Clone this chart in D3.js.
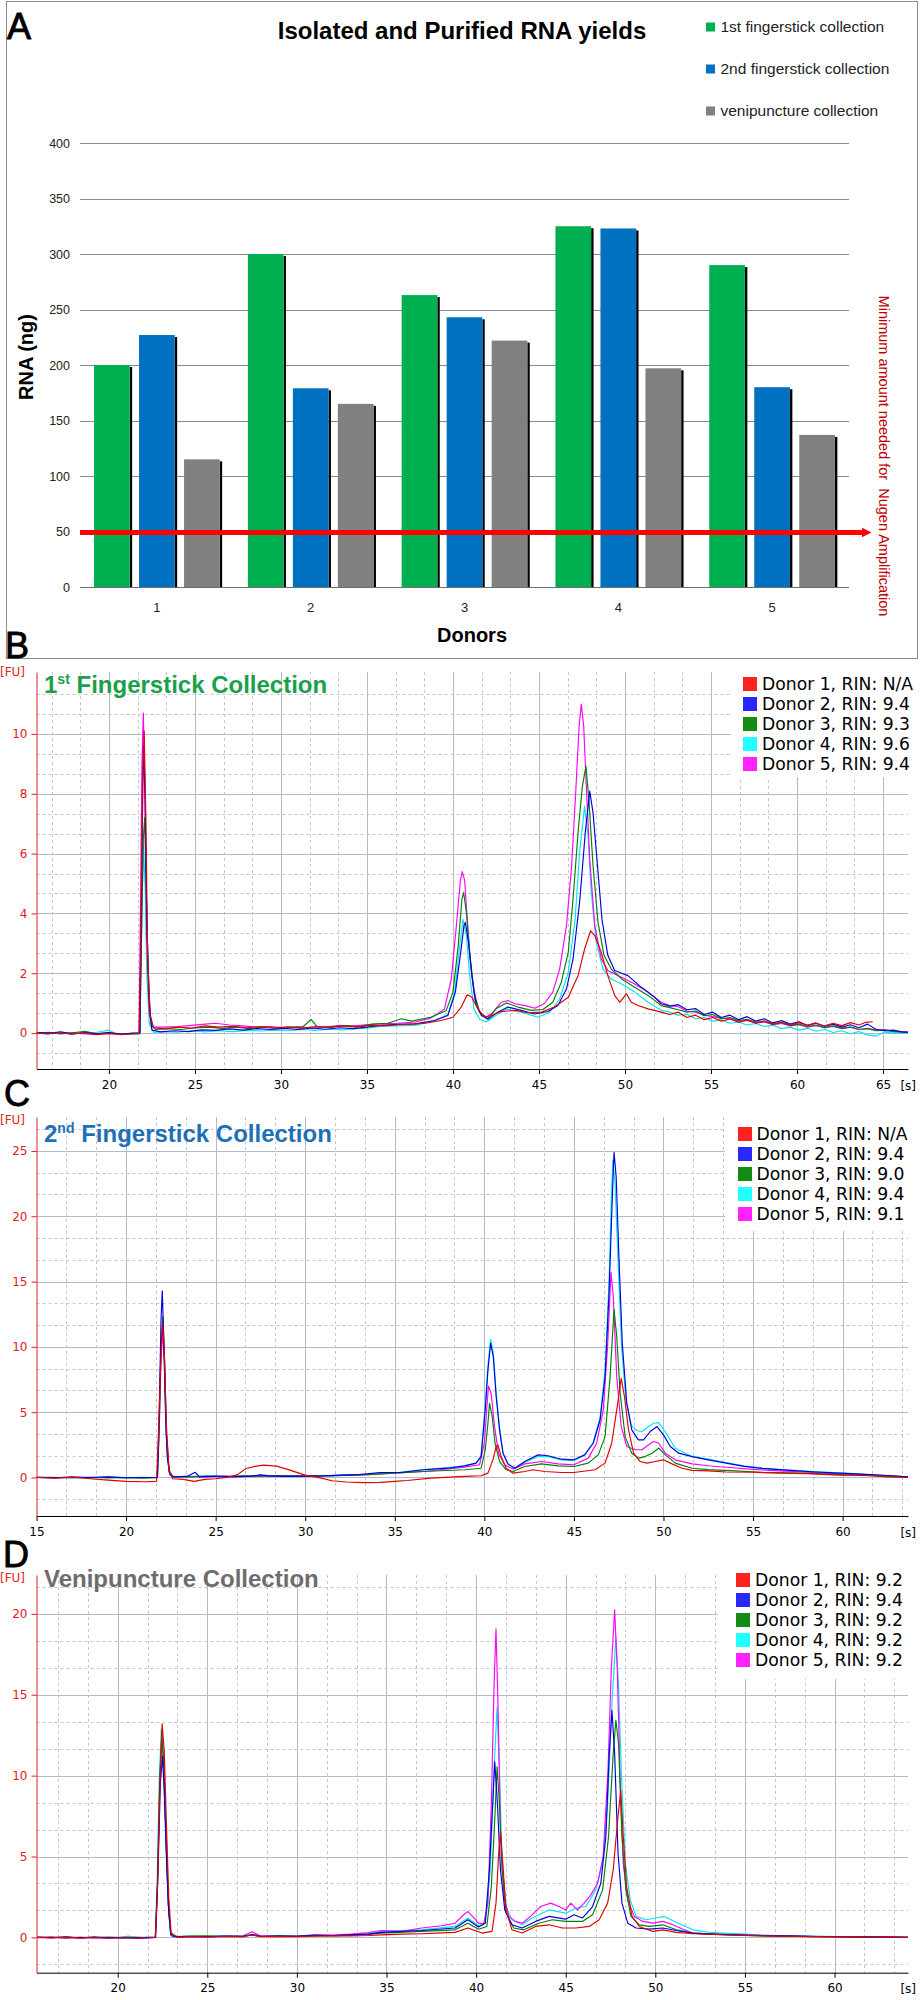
<!DOCTYPE html>
<html><head><meta charset="utf-8">
<script src="https://cdn.jsdelivr.net/npm/d3@7"></script>
<style>body{margin:0;background:#fff}svg{display:block}</style>
</head><body>
<svg id="chart" width="920" height="2000"></svg>
<script>
// ---------------- DATA ----------------
const barCategories = ["1","2","3","4","5"];
const barSeriesNames = ["1st fingerstick collection","2nd fingerstick collection","venipuncture collection"];
const firstFingerstick = [200,300,263,325,290];
const secondFingerstick = [227,179,243,323,180];
const venipuncture = [115,165,222,197,137];
const minimumRNA = 50;
const yTicksA = [0,50,100,150,200,250,300,350,400];

const donors = ["Donor 1","Donor 2","Donor 3","Donor 4","Donor 5"];
const rinB = ["N/A","9.4","9.3","9.6","9.4"];
const rinC = ["N/A","9.4","9.0","9.4","9.1"];
const rinD = ["9.2","9.4","9.2","9.2","9.2"];

const xTicksB = [20,25,30,35,40,45,50,55,60,65];
const yTicksB = [0,2,4,6,8,10];
const xRangeB = [15.79,66.45];
const yRangeB = [-1.2,12.07];
const xTicksC = [15,20,25,30,35,40,45,50,55,60];
const yTicksC = [0,5,10,15,20,25];
const xRangeC = [15,63.65];
const yRangeC = [-2.95,27.6];
const xTicksD = [20,25,30,35,40,45,50,55,60];
const yTicksD = [0,5,10,15,20];
const xRangeD = [15.47,64.1];
const yRangeD = [-2.18,22.4];

// Panel B traces [time s, FU]
const traceB1 = [[15.8,0.01],[16.4,-0.03],[17.1,0.02],[17.8,-0.04],[18.5,0.01],[19.2,-0.05],[19.9,-0.02],[20.6,-0.04],[21.3,-0.03],[21.75,-0.02],[21.85,2.8],[21.95,8.2],[22.05,10.1],[22.15,7.1],[22.25,2.6],[22.4,0.6],[22.6,0.18],[23.2,0.14],[24,0.2],[24.8,0.17],[25.6,0.24],[26.4,0.2],[27.2,0.23],[28,0.18],[28.8,0.22],[29.6,0.17],[30.4,0.21],[31.2,0.16],[32,0.22],[32.8,0.19],[33.6,0.24],[34.4,0.2],[35.2,0.26],[36,0.24],[36.8,0.28],[37.6,0.3],[38.4,0.33],[39.3,0.42],[40,0.53],[40.48,0.87],[40.83,1.28],[41.1,1.2],[41.45,0.81],[41.84,0.53],[42.23,0.59],[42.8,0.72],[43.6,0.76],[44.36,0.68],[45.14,0.7],[45.9,0.87],[46.7,1.2],[47.27,1.92],[47.65,2.81],[48,3.42],[48.24,3.26],[48.62,2.7],[49,1.92],[49.4,1.26],[49.69,1.03],[50.08,1.31],[50.37,1.03],[50.76,0.92],[51.34,0.81],[52.1,0.7],[52.6,0.62],[53.1,0.7],[53.6,0.52],[54.1,0.6],[54.6,0.45],[55.1,0.52],[55.6,0.4],[56.1,0.47],[56.6,0.36],[57.1,0.44],[57.6,0.33],[58.1,0.4],[58.6,0.3],[59.1,0.37],[59.6,0.27],[60.1,0.35],[60.6,0.26],[61.1,0.34],[61.6,0.24],[62.1,0.33],[62.6,0.25],[63.1,0.35],[63.6,0.27],[64,0.36],[64.4,0.38]];
const traceB2 = [[15.8,0.03],[16.5,-0.01],[17.2,0.04],[17.9,-0.03],[18.6,0.02],[19.3,-0.02],[20,0.02],[20.7,-0.03],[21.4,-0.01],[21.8,0],[21.9,4.8],[22,9.6],[22.1,8],[22.2,3.8],[22.35,0.9],[22.5,0.1],[23,0.04],[23.8,0.08],[24.6,0.05],[25.4,0.11],[26.2,0.09],[27,0.14],[27.8,0.1],[28.6,0.15],[29.4,0.12],[30.2,0.16],[31,0.12],[31.8,0.17],[32.6,0.13],[33.4,0.18],[34.2,0.15],[35,0.2],[35.8,0.26],[36.8,0.29],[37.8,0.31],[38.93,0.42],[39.7,0.59],[40.14,1.37],[40.45,2.7],[40.64,3.6],[40.72,3.7],[40.9,3.03],[41.1,1.92],[41.36,0.92],[41.65,0.59],[42.03,0.46],[42.6,0.7],[43.2,0.87],[43.97,0.76],[44.75,0.64],[45.52,0.72],[46.1,0.92],[46.6,1.48],[46.98,2.48],[47.36,4.37],[47.69,6.7],[47.95,8.09],[48.14,7.37],[48.4,5.6],[48.66,3.8],[49,2.6],[49.4,2.09],[49.8,2],[50.17,1.92],[50.95,1.53],[51.72,1.2],[52.1,0.98],[52.6,0.9],[53.1,0.95],[53.6,0.78],[54.1,0.82],[54.6,0.62],[55.1,0.7],[55.6,0.52],[56.1,0.6],[56.6,0.45],[57.1,0.55],[57.6,0.4],[58.1,0.48],[58.6,0.34],[59.1,0.42],[59.6,0.3],[60.1,0.38],[60.6,0.26],[61.1,0.33],[61.6,0.22],[62.1,0.3],[62.6,0.2],[63.1,0.28],[63.6,0.18],[64.1,0.3],[64.6,0.12],[65.1,0.08],[65.6,0.1],[66.1,0.04],[66.45,0.03]];
const traceB3 = [[15.8,-0.02],[16.5,0.02],[17.2,-0.03],[17.9,0.01],[18.6,0.06],[19.3,-0.02],[20,0.01],[20.7,-0.03],[21.4,0],[21.8,0],[21.9,3.5],[22,6.5],[22.08,7.2],[22.18,4.5],[22.3,1.5],[22.45,0.3],[22.7,0.12],[23.4,0.15],[24.2,0.12],[25,0.17],[25.8,0.2],[26.6,0.16],[27.4,0.2],[28.2,0.15],[29,0.2],[29.8,0.16],[30.6,0.2],[31.3,0.22],[31.75,0.46],[32.1,0.22],[32.9,0.2],[33.7,0.25],[34.5,0.22],[35.3,0.3],[36.2,0.33],[37,0.48],[37.6,0.4],[38.7,0.53],[39.6,0.75],[40,1.37],[40.3,2.9],[40.52,4.48],[40.62,4.7],[40.78,4.03],[40.97,2.7],[41.22,1.37],[41.55,0.7],[42.03,0.48],[42.5,0.81],[43.1,1.01],[43.78,0.87],[44.55,0.76],[45.23,0.79],[45.8,1.03],[46.3,1.7],[46.7,2.7],[46.98,4.48],[47.27,6.7],[47.52,8.25],[47.73,8.92],[47.9,7.8],[48.14,5.6],[48.43,3.7],[48.78,2.6],[49.2,2.14],[49.8,1.81],[50.56,1.53],[51.34,1.26],[52.1,0.92],[52.6,0.85],[53.1,0.78],[53.6,0.7],[54.1,0.74],[54.6,0.58],[55.1,0.62],[55.6,0.48],[56.1,0.52],[56.6,0.42],[57.1,0.46],[57.6,0.36],[58.1,0.4],[58.6,0.3],[59.1,0.35],[59.6,0.26],[60.1,0.3],[60.6,0.22],[61.1,0.27],[61.6,0.18],[62.1,0.24],[62.6,0.16],[63.1,0.2],[63.6,0.12],[64.1,0.15],[64.6,0.08],[65.1,0.1],[65.6,0.05],[66.45,0.02]];
const traceB4 = [[15.8,0],[16.5,-0.03],[17.2,0.02],[17.9,-0.02],[18.6,0.01],[19.3,0.03],[20,0.1],[20.4,-0.02],[21.1,-0.04],[21.8,-0.02],[21.9,3.2],[22,6.3],[22.1,5],[22.2,2],[22.35,0.3],[22.6,0.02],[23.2,0.05],[24,0.03],[24.8,0.08],[25.6,0.04],[26.4,0.08],[27.2,0.05],[28,0.09],[28.8,0.07],[29.6,0.1],[30.4,0.08],[31.2,0.12],[32,0.09],[32.8,0.13],[33.6,0.11],[34.4,0.15],[35.2,0.17],[35.8,0.23],[37.8,0.26],[38.93,0.42],[39.7,0.61],[40.1,1.37],[40.39,2.9],[40.58,3.8],[40.78,3.26],[40.97,1.92],[41.22,0.81],[41.55,0.46],[41.94,0.37],[42.5,0.59],[43.1,0.81],[43.97,0.7],[44.94,0.53],[45.62,0.7],[46.2,1.14],[46.7,2.03],[47.1,3.8],[47.36,6.03],[47.65,7.59],[47.85,6.59],[48.04,4.7],[48.33,3.03],[48.72,2.14],[49.2,1.81],[49.8,1.64],[50.56,1.37],[51.34,1.03],[52.1,0.76],[52.6,0.7],[53.1,0.6],[53.6,0.62],[54.1,0.48],[54.6,0.52],[55.1,0.4],[55.6,0.44],[56.1,0.33],[56.6,0.37],[57.1,0.27],[57.6,0.32],[58.1,0.22],[58.6,0.26],[59.1,0.15],[59.6,0.2],[60.1,0.1],[60.6,0.16],[61.1,0.06],[61.6,0.12],[62.1,0.02],[62.6,0.08],[63.1,-0.02],[63.6,0.05],[64.1,-0.06],[64.6,-0.1],[65.1,0.04],[65.6,0],[66.45,0]];
const traceB5 = [[15.8,0],[16.5,0.03],[17.2,-0.02],[17.9,0.02],[18.6,-0.03],[19.3,-0.04],[20,0],[20.7,-0.05],[21.4,-0.02],[21.75,0],[21.82,3.5],[21.92,9],[22,10.7],[22.08,8.5],[22.2,3],[22.35,0.6],[22.55,0.2],[23.2,0.2],[24,0.22],[24.8,0.26],[25.6,0.3],[26.2,0.33],[27,0.27],[27.8,0.24],[28.6,0.2],[29.4,0.22],[30.2,0.18],[31,0.2],[31.8,0.16],[32.6,0.2],[33.4,0.26],[34.2,0.24],[35,0.28],[35.8,0.31],[36.8,0.33],[37.8,0.37],[38.7,0.5],[39.5,0.8],[39.9,1.8],[40.2,3.6],[40.43,5.1],[40.54,5.4],[40.68,5.1],[40.83,3.8],[41.03,2.25],[41.26,1.15],[41.55,0.7],[41.94,0.53],[42.33,0.7],[42.8,1.03],[43.2,1.09],[43.6,0.98],[44.2,0.92],[44.75,0.83],[45.3,0.98],[45.8,1.37],[46.2,2.14],[46.6,3.6],[46.9,5.6],[47.13,8],[47.33,10.25],[47.46,11],[47.6,10.25],[47.75,8.25],[47.95,5.8],[48.24,3.6],[48.62,2.48],[49,2.09],[49.4,1.98],[50,1.81],[50.56,1.64],[51.34,1.37],[52.1,1.03],[52.6,0.92],[53.1,0.88],[53.6,0.74],[54.1,0.7],[54.6,0.6],[55.1,0.55],[55.6,0.5],[56.1,0.48],[56.6,0.4],[57.1,0.42],[57.6,0.34],[58.1,0.37],[58.6,0.28],[59.1,0.32],[59.6,0.24],[60.1,0.28],[60.6,0.2],[61.1,0.25],[61.6,0.18],[62.1,0.22],[62.6,0.15],[63.1,0.2],[63.6,0.12],[64.1,0.16],[64.6,0.1],[65.1,0.12],[65.6,0.06],[66.45,0.04]];

// Panel C traces
const traceC1 = [[15,0],[16,-0.05],[17,0.02],[18,-0.1],[19,-0.2],[20,-0.3],[21,-0.33],[21.7,-0.3],[21.8,3],[21.95,9.5],[22.05,11.8],[22.15,9],[22.25,4],[22.4,0.5],[22.6,-0.1],[23.2,-0.15],[23.8,-0.3],[24.4,-0.15],[25,-0.1],[25.6,0],[26.2,0.2],[26.7,0.69],[27.2,0.85],[27.67,0.94],[28.4,0.87],[29.15,0.56],[30,0.18],[30.83,-0.03],[31.5,-0.25],[32.3,-0.35],[33.2,-0.4],[34.2,-0.38],[35,-0.3],[35.7,-0.23],[37,-0.05],[38.9,0.08],[39.82,0.13],[40.2,0.33],[40.48,1.35],[40.66,2.37],[40.76,2.5],[40.94,1.6],[41.22,0.71],[41.6,0.33],[42.25,0.46],[42.72,0.59],[43.37,0.46],[44.3,0.38],[45,0.38],[46.18,0.59],[46.74,1.1],[47.11,2.62],[47.39,5.17],[47.64,7.6],[47.82,6.2],[48.05,3.64],[48.33,1.86],[48.7,1.22],[49.07,1.1],[49.54,1.22],[50,1.35],[50.48,1.04],[51.04,0.71],[51.6,0.54],[52.5,0.5],[53.5,0.42],[55,0.4],[56.5,0.33],[58,0.3],[59.5,0.2],[61,0.15],[62.3,0.1],[63.65,0]];
const traceC2 = [[15,0.02],[16,-0.03],[17,0.03],[18,0],[19,0.05],[20,-0.02],[21,0],[21.75,0.02],[21.85,5],[21.95,12],[22.02,14.3],[22.1,11],[22.2,5],[22.3,1.5],[22.45,0.2],[22.7,0.05],[23.4,0.08],[23.85,0.4],[24.1,0.05],[25,0.1],[26,0.05],[27,0.1],[27.5,0.2],[28,0.12],[29,0.08],[30,0.1],[31,0.12],[32,0.18],[33,0.22],[34.2,0.38],[35.3,0.38],[36.6,0.59],[37.95,0.71],[38.9,0.89],[39.54,1.1],[39.82,1.6],[40.05,5.2],[40.2,8.2],[40.35,10.27],[40.5,9.25],[40.66,6.2],[40.85,3.64],[41.04,1.86],[41.32,1.04],[41.7,0.71],[42.25,1.22],[43,1.73],[43.56,1.66],[44.3,1.4],[45,1.35],[45.6,1.73],[46.08,2.62],[46.46,4.4],[46.74,7.7],[46.96,14.1],[47.15,21.7],[47.24,24.9],[47.36,23],[47.52,16.6],[47.7,10.27],[47.95,5.7],[48.23,3.64],[48.6,2.88],[48.89,2.88],[49.26,3.52],[49.64,3.9],[50,3.26],[50.38,2.37],[50.85,1.86],[51.6,1.6],[52.5,1.35],[53.5,1.1],[54.5,0.85],[55.5,0.7],[56.5,0.6],[57.5,0.5],[58.5,0.42],[59.5,0.35],[60.5,0.3],[61.5,0.22],[62.5,0.15],[63.65,0.05]];
const traceC3 = [[15,0],[16,0.02],[17,-0.04],[18,0.02],[19,-0.03],[20,0],[21,-0.05],[21.75,0],[21.85,4],[21.95,10],[22.05,12.3],[22.15,9],[22.25,3.5],[22.4,0.6],[22.6,0.05],[23.4,0.05],[24.5,0.1],[25.5,0.05],[26.5,0.12],[27.5,0.1],[28.5,0.15],[29.5,0.1],[30.5,0.15],[31.5,0.12],[32.5,0.18],[33.5,0.22],[34.2,0.28],[36.6,0.46],[38.9,0.59],[39.82,0.71],[40.05,2.12],[40.2,4.15],[40.29,5.68],[40.44,4.66],[40.6,2.62],[40.85,1.22],[41.22,0.59],[41.6,0.46],[42.25,0.84],[43.19,1.04],[44.12,0.89],[45,0.84],[45.8,1.1],[46.36,1.73],[46.74,3.13],[47.02,7.72],[47.24,12.87],[47.39,10.78],[47.58,6.45],[47.86,3.13],[48.23,1.86],[48.6,1.48],[48.98,1.6],[49.36,1.86],[49.73,2.24],[50.1,1.73],[50.66,1.1],[51.6,0.71],[52.5,0.6],[54,0.5],[55.5,0.4],[57,0.35],[58.5,0.3],[60,0.2],[61.5,0.15],[62.5,0.05],[63.65,0.02]];
const traceC4 = [[15,0.03],[16,0],[17,0.02],[18,-0.03],[19,0.04],[20,0],[21,0.02],[21.75,0],[21.85,4],[21.95,10],[22.05,12],[22.15,8],[22.25,3],[22.4,0.4],[22.6,0.08],[23.5,0.05],[24.5,0.1],[25.5,0.08],[26.5,0.1],[27.5,0.15],[28.5,0.1],[29.5,0.1],[30.5,0.12],[31.5,0.15],[32.5,0.2],[33.5,0.25],[34.2,0.38],[35.3,0.4],[36.6,0.6],[37.95,0.75],[38.9,0.9],[39.54,1.1],[39.82,1.7],[40.05,5.5],[40.2,8.6],[40.35,10.58],[40.5,9.6],[40.66,6.5],[40.85,3.8],[41.04,1.9],[41.32,1],[41.7,0.7],[42.25,1.15],[43,1.6],[43.56,1.6],[44.3,1.35],[45,1.3],[45.6,1.7],[46.08,2.7],[46.46,4.6],[46.74,8.2],[46.96,15],[47.1,22],[47.17,24.3],[47.3,22.5],[47.48,16],[47.66,10],[47.9,6],[48.2,4],[48.5,3.6],[48.8,3.5],[49.17,3.9],[49.45,4.15],[49.73,4.2],[50.1,3.5],[50.66,2.24],[51.6,1.6],[52.5,1.4],[53.5,1.15],[54.5,0.9],[55.5,0.72],[56.5,0.6],[57.5,0.52],[58.5,0.45],[59.5,0.38],[60.5,0.3],[61.5,0.22],[62.5,0.14],[63.65,0.05]];
const traceC5 = [[15,0],[16,-0.02],[17,0.03],[18,-0.02],[19,0.02],[20,-0.03],[21,0],[21.75,-0.02],[21.85,3.5],[21.95,9],[22.05,11.2],[22.15,8.5],[22.25,3],[22.4,0.4],[22.6,0.05],[23.5,0.08],[24.5,0.05],[25.5,0.1],[26.5,0.06],[27.5,0.12],[28.5,0.08],[29.5,0.12],[30.5,0.1],[31.5,0.15],[32.5,0.18],[33.5,0.22],[34.2,0.28],[36.6,0.46],[38.9,0.79],[39.73,0.97],[40,2.62],[40.16,5.7],[40.23,7],[40.38,6.45],[40.57,3.9],[40.79,1.86],[41.13,0.97],[41.6,0.64],[42.25,1.04],[43.19,1.22],[44.12,1.04],[45,0.97],[45.8,1.48],[46.27,2.62],[46.64,5.17],[46.89,10.27],[47.07,15.7],[47.2,13.84],[47.39,7.72],[47.64,3.9],[47.95,2.37],[48.42,2.12],[48.8,2.12],[49.17,2.5],[49.45,2.75],[49.73,2.62],[50.1,1.86],[50.66,1.35],[51.6,1.04],[52.5,0.9],[53.5,0.78],[55,0.62],[56.5,0.5],[58,0.4],[59.5,0.3],[61,0.22],[62.5,0.12],[63.65,0.05]];

// Panel D traces
const traceD1 = [[15.5,0],[16.3,-0.03],[17.1,0.02],[17.9,-0.04],[18.7,0],[19.5,-0.05],[20.3,-0.02],[21.1,-0.04],[21.8,-0.02],[22.1,0],[22.22,3],[22.35,9],[22.48,13.2],[22.6,11.5],[22.72,7],[22.85,2.5],[22.98,0.3],[23.3,0],[24,0.05],[25,0.02],[26,0.06],[27,0.04],[27.5,0.15],[28,0.05],[29,0.06],[30,0.04],[31,0.08],[32,0.1],[33,0.1],[34,0.12],[34.7,0.16],[35.84,0.2],[36.96,0.23],[38.08,0.28],[38.83,0.31],[39.54,0.58],[40.33,0.27],[40.89,0.37],[41.11,2.12],[41.26,5.2],[41.36,6.54],[41.49,4.58],[41.67,1.7],[42,0.47],[42.57,0.27],[43.32,0.68],[44.07,0.78],[44.81,0.58],[45.56,0.58],[46.31,0.68],[46.87,1.09],[47.34,2.12],[47.65,4.17],[47.9,7.26],[48.07,9.1],[48.21,6.23],[48.4,3.14],[48.7,1.3],[49.11,0.68],[49.86,0.37],[50.42,0.47],[51.17,0.31],[52.1,0.23],[53,0.2],[54,0.15],[55,0.12],[56,0.1],[57,0.08],[58,0.06],[59,0.05],[60,0.03],[61,0.05],[62,0.02],[63,0.03],[64.1,0]];
const traceD2 = [[15.5,0.02],[16.3,-0.02],[17.1,0.03],[17.9,-0.03],[18.7,0.02],[19.5,-0.02],[20.3,0.01],[21.1,-0.03],[21.8,0],[22.12,0],[22.25,4],[22.38,9.5],[22.5,11.2],[22.6,9],[22.72,5],[22.85,1.5],[22.98,0.1],[23.3,0.02],[24,0.06],[25,0.04],[26,0.08],[27,0.05],[27.5,0.18],[28,0.06],[29,0.08],[30,0.06],[31,0.14],[32,0.12],[33,0.16],[34,0.2],[34.7,0.31],[36.96,0.43],[38.83,0.58],[39.54,1.09],[40.14,0.64],[40.51,0.88],[40.74,4.17],[40.93,8.28],[41.04,10.85],[41.19,8.28],[41.36,4.17],[41.6,1.7],[42,0.78],[42.57,0.58],[43.32,0.99],[44.07,1.3],[45,1.13],[45.47,1.4],[45.93,1.2],[46.5,1.91],[46.96,3.35],[47.24,6.23],[47.43,11.37],[47.58,14.04],[47.73,11.37],[47.92,5.2],[48.14,2.12],[48.46,0.88],[48.93,0.58],[49.67,0.51],[50.42,0.58],[51.17,0.43],[52.1,0.27],[53,0.22],[54,0.18],[55,0.15],[56,0.12],[57,0.1],[58,0.08],[59,0.06],[60,0.05],[61,0.03],[62,0.04],[63,0.02],[64.1,0]];
const traceD3 = [[15.5,-0.02],[16.3,0.02],[17.1,-0.03],[17.9,0.01],[18.7,-0.02],[19.5,0.02],[20.3,-0.03],[21.1,0],[21.8,-0.02],[22.1,0],[22.22,3.5],[22.35,10],[22.46,12.5],[22.58,10.5],[22.7,6],[22.83,2],[22.96,0.2],[23.3,0.05],[24,0.08],[25,0.1],[26,0.06],[27,0.08],[27.5,0.15],[28,0.06],[29,0.1],[30,0.08],[31,0.12],[32,0.1],[33,0.14],[34,0.18],[34.7,0.27],[36.96,0.37],[38.83,0.47],[39.54,0.88],[40.14,0.51],[40.6,0.68],[40.85,3.14],[41.04,7.26],[41.17,10.54],[41.3,8.28],[41.45,4.17],[41.67,1.5],[42.1,0.58],[42.66,0.47],[43.5,0.88],[44.25,1.09],[45,0.99],[45.93,0.99],[46.5,1.4],[47.06,2.94],[47.39,6.23],[47.65,11.37],[47.8,13.42],[47.95,11.98],[48.14,6.23],[48.36,2.94],[48.64,1.3],[49.11,0.78],[49.67,0.68],[50.42,0.78],[51.17,0.47],[52.1,0.27],[53,0.2],[54,0.15],[55,0.12],[56,0.1],[57,0.08],[58,0.06],[59,0.05],[60,0.04],[61,0.02],[62,0.03],[63,0.01],[64.1,0]];
const traceD4 = [[15.5,0.01],[16.3,-0.02],[17.1,0.02],[17.9,-0.02],[18.7,0.03],[19.5,-0.01],[20.3,0.02],[20.6,0.08],[21.1,0],[21.8,0],[22.1,0],[22.2,3.5],[22.32,9.8],[22.43,12.9],[22.55,11],[22.68,6.5],[22.8,2.5],[22.93,0.3],[23.3,0.05],[24,0.08],[25,0.06],[26,0.1],[27,0.08],[27.5,0.2],[28,0.08],[29,0.1],[30,0.08],[31,0.14],[32,0.12],[33,0.18],[34,0.22],[34.7,0.37],[36.96,0.47],[38.83,0.68],[39.54,1.2],[40.14,0.72],[40.51,0.88],[40.79,4.17],[40.98,9.93],[41.17,14.24],[41.3,10.34],[41.45,4.58],[41.67,1.91],[42,1.09],[42.57,0.78],[43.13,1.2],[44.07,1.7],[45,1.5],[45.56,1.81],[46.12,1.91],[46.68,2.94],[47.06,4.58],[47.34,8.28],[47.58,14.45],[47.8,18.56],[47.95,15.48],[48.1,10.34],[48.33,4.58],[48.6,2.32],[48.93,1.3],[49.49,1.09],[50.05,1.2],[50.51,1.3],[51.07,0.99],[52.1,0.47],[53,0.32],[54,0.25],[55,0.2],[56,0.15],[57,0.12],[58,0.1],[59,0.08],[60,0.06],[61,0.05],[62,0.03],[63,0.04],[64.1,0.01]];
const traceD5 = [[15.5,0],[16.3,0.02],[17.1,-0.04],[17.9,0],[18.7,-0.03],[19.5,-0.05],[20.3,-0.02],[21.1,-0.04],[21.8,-0.01],[22.1,0],[22.22,3.2],[22.35,9.5],[22.46,12.3],[22.58,10.8],[22.7,6],[22.83,2],[22.96,0.2],[23.3,0.05],[24,0.06],[25,0.05],[26,0.08],[27,0.1],[27.5,0.35],[27.9,0.12],[29,0.08],[30,0.1],[31,0.15],[32,0.14],[33,0.2],[34,0.3],[34.7,0.43],[35.84,0.37],[36.96,0.58],[38.08,0.72],[38.83,0.88],[39.3,1.4],[39.54,1.6],[39.8,1.3],[40.14,0.88],[40.42,0.84],[40.66,2.12],[40.85,8.28],[41,15.48],[41.11,19.07],[41.22,14.45],[41.37,6.23],[41.56,2.53],[41.82,1.3],[42.2,0.99],[42.57,0.88],[43.04,1.3],[43.6,1.91],[44.16,2.12],[44.63,1.91],[45,1.7],[45.28,2.12],[45.65,1.7],[46.03,2.12],[46.4,2.63],[46.78,3.35],[47.09,5],[47.36,10.34],[47.54,16.5],[47.73,20.25],[47.88,16.5],[48.03,9.93],[48.21,4.58],[48.46,2.32],[48.83,1.3],[49.3,0.99],[49.86,0.88],[50.42,0.99],[50.98,0.78],[51.54,0.51],[52.1,0.27],[53,0.22],[54,0.18],[55,0.15],[56,0.12],[57,0.1],[58,0.08],[59,0.05],[60,0.04],[61,0.03],[62,0.04],[63,0.02],[64.1,0]];

// ---------------- DRAWING ----------------
const svg = d3.select("#chart");
const FA = "'Liberation Sans', Arial, sans-serif";
const FE = "'DejaVu Sans', Verdana, sans-serif";

svg.append("rect").attr("width",920).attr("height",2000).attr("fill","#fff");

// ===== Panel A =====
const gA = svg.append("g");
gA.append("rect").attr("x",6.5).attr("y",1.5).attr("width",911).attr("height",657)
  .attr("fill","none").attr("stroke","#8c8c8c");
const xA = d3.scaleBand().domain(barCategories).range([80,849]);
const yA = d3.scaleLinear().domain([0,400]).range([587,143]);
const groupW = 125.7;
const xA1 = d3.scaleBand().domain([0,1,2]).range([0,groupW]).paddingInner(0.2067);
const offA = (xA.bandwidth()-groupW)/2;
const seriesA = [
  {name:barSeriesNames[0], values:firstFingerstick, color:"#00b050"},
  {name:barSeriesNames[1], values:secondFingerstick, color:"#0070c0"},
  {name:barSeriesNames[2], values:venipuncture, color:"#808080"}
];
gA.append("g").selectAll("line").data(yTicksA).join("line")
  .attr("x1",80).attr("x2",849)
  .attr("y1",d=>Math.round(yA(d))+0.5).attr("y2",d=>Math.round(yA(d))+0.5)
  .attr("stroke",d=>d===0?"#6e6e6e":"#8a8a8a").attr("stroke-width",1);
gA.append("g").selectAll("text").data(yTicksA).join("text")
  .attr("x",70).attr("y",d=>yA(d)+4.5).attr("text-anchor","end")
  .attr("font-family",FA).attr("font-size",12.5).attr("fill","#222").text(d=>d);
seriesA.forEach((s,i)=>{
  const g = gA.append("g");
  g.selectAll("rect.sh").data(s.values).join("rect").attr("class","sh")
    .attr("x",(d,j)=>xA(barCategories[j])+offA+xA1(i)+xA1.bandwidth())
    .attr("y",d=>yA(d)+2).attr("width",2.4).attr("height",d=>yA(0)-yA(d)-2)
    .attr("fill","#000");
  g.selectAll("rect.bar").data(s.values).join("rect").attr("class","bar")
    .attr("x",(d,j)=>xA(barCategories[j])+offA+xA1(i))
    .attr("y",d=>yA(d)).attr("width",xA1.bandwidth()).attr("height",d=>yA(0)-yA(d))
    .attr("fill",s.color);
});
// threshold arrow
const yMin = yA(minimumRNA)+1;
gA.append("line").attr("x1",80).attr("x2",864).attr("y1",yMin).attr("y2",yMin)
  .attr("stroke","#ff0000").attr("stroke-width",5);
gA.append("path").attr("d",`M862,${yMin-4.8}L871.5,${yMin}L862,${yMin+4.8}Z`).attr("fill","#ff0000");
gA.append("text").attr("transform",`translate(879,456) rotate(90)`).attr("text-anchor","middle")
  .attr("font-family",FA).attr("font-size",14.5).attr("fill","#c00000")
  .attr("xml:space","preserve").text("Minimum amount needed for  Nugen Amplification");
// x labels
gA.append("g").selectAll("text").data(barCategories).join("text")
  .attr("x",d=>xA(d)+xA.bandwidth()/2).attr("y",612).attr("text-anchor","middle")
  .attr("font-family",FA).attr("font-size",13).attr("fill","#222").text(d=>d);
gA.append("text").attr("x",472).attr("y",642).attr("text-anchor","middle")
  .attr("font-family",FA).attr("font-weight","bold").attr("font-size",20).text("Donors");
gA.append("text").attr("transform","translate(33,357) rotate(-90)").attr("text-anchor","middle")
  .attr("font-family",FA).attr("font-weight","bold").attr("font-size",20).text("RNA (ng)");
gA.append("text").attr("x",462).attr("y",39).attr("text-anchor","middle")
  .attr("font-family",FA).attr("font-weight","bold").attr("font-size",24).text("Isolated and Purified RNA yields");
const legA = gA.append("g").selectAll("g").data(seriesA).join("g")
  .attr("transform",(d,i)=>`translate(706,${[27,69,111][i]})`);
legA.append("rect").attr("x",0).attr("y",-4.5).attr("width",9).attr("height",9).attr("fill",d=>d.color);
legA.append("text").attr("x",14.5).attr("y",5).attr("font-family",FA).attr("font-size",15.5)
  .attr("fill","#222").text(d=>d.name);

// panel letters
[["A",7,39],["B",5,658],["C",4,1106],["D",3,1567]].forEach(([t,x,y])=>{
  svg.append("text").attr("x",x).attr("y",y).attr("font-family",FA).attr("font-size",36)
    .attr("fill","#000").attr("stroke","#000").attr("stroke-width",0.9).text(t);
});

// ===== Electropherograms =====
const lineColors = ["#e00000","#0000dd","#008000","#00e5ee","#ff00ff"];
const legendColors = ["#ff2020","#2828ff","#148c14","#22ffff","#ff22ff"];

function drawEpg(p){
  const g = svg.append("g");
  const X0 = 36.5, X1 = 908;
  const x = d3.scaleLinear().domain(p.xRange).range([X0,X1]);
  const y = d3.scaleLinear().domain(p.yRange).range([p.bottom,p.top]);
  const minor = (range, step) => {
    const out = [];
    for(let k=Math.ceil(range[0]*3/step); k*step/3<=range[1]; k++){ if(k%3!==0) out.push(k*step/3); }
    return out;
  };
  const mx = minor(p.xRange,p.xStep), my = minor(p.yRange,p.yStep);
  const grid = g.append("g");
  grid.selectAll("line.mx").data(mx).join("line").attr("class","mx")
    .attr("x1",d=>Math.round(x(d))+0.5).attr("x2",d=>Math.round(x(d))+0.5)
    .attr("y1",p.top).attr("y2",p.bottom).attr("stroke","#c6c6c6").attr("stroke-dasharray","3,3");
  grid.selectAll("line.my").data(my).join("line").attr("class","my")
    .attr("y1",d=>Math.round(y(d))+0.5).attr("y2",d=>Math.round(y(d))+0.5)
    .attr("x1",X0).attr("x2",X1).attr("stroke","#c6c6c6").attr("stroke-dasharray","3,3");
  grid.selectAll("line.Mx").data(p.xTicks.filter(d=>x(d)>X0+1)).join("line").attr("class","Mx")
    .attr("x1",d=>Math.round(x(d))+0.5).attr("x2",d=>Math.round(x(d))+0.5)
    .attr("y1",p.top).attr("y2",p.bottom).attr("stroke","#b3bac8");
  grid.selectAll("line.My").data(p.yTicks).join("line").attr("class","My")
    .attr("y1",d=>Math.round(y(d))+0.5).attr("y2",d=>Math.round(y(d))+0.5)
    .attr("x1",X0).attr("x2",X1).attr("stroke","#b3bac8");
  // legend background
  g.append("rect").attr("x",p.leg.bx).attr("y",p.leg.by).attr("width",918-p.leg.bx).attr("height",p.leg.bh).attr("fill","#fff");
  // traces (donor 1 on top)
  const line = d3.line().x(d=>x(d[0])).y(d=>y(d[1]));
  [3,4,2,1,0].forEach(i=>{
    g.append("path").attr("d",line(p.traces[i])).attr("fill","none")
      .attr("stroke",lineColors[i]).attr("stroke-width",1.15).attr("stroke-linejoin","round");
  });
  // axes
  const xa = g.append("g").attr("transform",`translate(0,${p.bottom})`)
    .call(d3.axisBottom(x).tickValues(p.xTicks).tickSize(5).tickSizeOuter(0).tickPadding(6));
  xa.attr("font-family",FE).attr("font-size",12);
  xa.select(".domain").attr("stroke","#000");
  xa.selectAll(".tick line").attr("stroke","#000");
  xa.selectAll(".tick text").attr("fill","#000");
  g.append("text").attr("x",916).attr("y",p.bottom+20.5).attr("text-anchor","end")
    .attr("font-family",FE).attr("font-size",12).text("[s]");
  const ya = g.append("g").attr("transform",`translate(${X0},0)`)
    .call(d3.axisLeft(y).tickValues(p.yTicks).tickSize(5).tickSizeOuter(0).tickPadding(4));
  ya.attr("font-family",FE).attr("font-size",12);
  ya.select(".domain").attr("stroke","#e02020");
  ya.selectAll(".tick line").attr("stroke","#e02020");
  ya.selectAll(".tick text").attr("fill","#e02020");
  g.append("text").attr("x",0).attr("y",p.fuY).attr("font-family",FE).attr("font-size",12)
    .attr("fill","#e02020").text("[FU]");
  // title
  const t = g.append("text").attr("x",44).attr("y",p.titleY).attr("font-family",FA)
    .attr("font-weight","bold").attr("font-size",24).attr("fill",p.titleColor);
  if(p.sup){
    t.append("tspan").text(p.titleHead);
    t.append("tspan").attr("dy",-9).attr("font-size",14).text(p.sup);
    t.append("tspan").attr("dy",9).text(" "+p.titleTail);
  } else t.text(p.titleTail);
  // legend
  const lg = g.append("g").selectAll("g").data(donors).join("g")
    .attr("transform",(d,i)=>`translate(0,${p.leg.y0+i*20})`);
  lg.append("rect").attr("x",p.leg.sx).attr("y",-7).attr("width",14).attr("height",14)
    .attr("fill",(d,i)=>legendColors[i]);
  lg.append("text").attr("x",p.leg.tx).attr("y",6).attr("font-family",FE).attr("font-size",17.2)
    .attr("fill","#000").text((d,i)=>`${d}, RIN: ${p.rin[i]}`);
}

drawEpg({top:672,bottom:1069,xRange:xRangeB,yRange:yRangeB,xTicks:xTicksB,yTicks:yTicksB,xStep:5,yStep:2,
  traces:[traceB1,traceB2,traceB3,traceB4,traceB5],rin:rinB,titleHead:"1",sup:"st",titleTail:"Fingerstick Collection",
  titleColor:"#19a04b",titleY:693,fuY:676,leg:{bx:731,by:660,bh:117,sx:743,tx:762,y0:684}});
drawEpg({top:1117,bottom:1516,xRange:xRangeC,yRange:yRangeC,xTicks:xTicksC,yTicks:yTicksC,xStep:5,yStep:5,
  traces:[traceC1,traceC2,traceC3,traceC4,traceC5],rin:rinC,titleHead:"2",sup:"nd",titleTail:"Fingerstick Collection",
  titleColor:"#1d70b8",titleY:1142,fuY:1124,leg:{bx:725,by:1110,bh:121,sx:738,tx:756.5,y0:1134}});
drawEpg({top:1575,bottom:1972.7,xRange:xRangeD,yRange:yRangeD,xTicks:xTicksD,yTicks:yTicksD,xStep:5,yStep:5,
  traces:[traceD1,traceD2,traceD3,traceD4,traceD5],rin:rinD,titleHead:"",sup:null,titleTail:"Venipuncture Collection",
  titleColor:"#6d6d6d",titleY:1587,fuY:1582,leg:{bx:718,by:1571,bh:108,sx:736,tx:755,y0:1580}});
</script>
</body></html>
